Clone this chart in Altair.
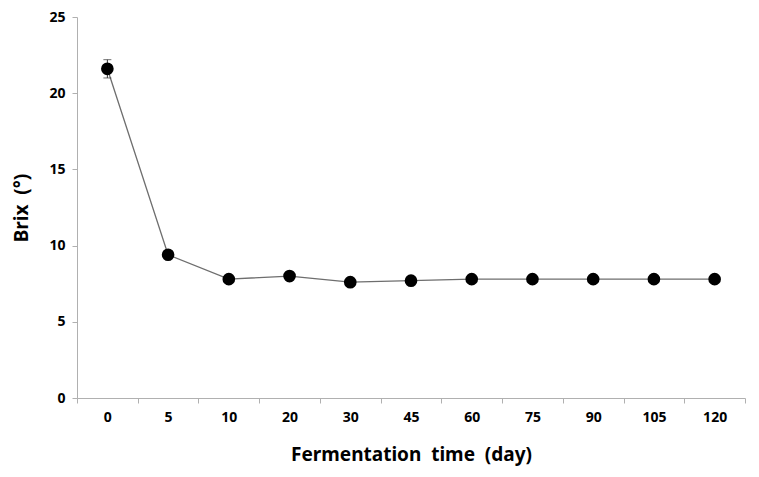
import altair as alt
import pandas as pd

days = ["0", "5", "10", "20", "30", "45", "60", "75", "90", "105", "120"]
brix = [21.6, 9.4, 7.8, 8.0, 7.6, 7.7, 7.8, 7.8, 7.8, 7.8, 7.8]
err = [0.6, 0.15, 0.1, 0.1, 0.1, 0.1, 0.1, 0.1, 0.1, 0.1, 0.1]

df = pd.DataFrame({"day": days, "brix": brix, "err": err})
df["lo"] = df["brix"] - df["err"]
df["hi"] = df["brix"] + df["err"]

FONT = "Noto Sans"
AX = "#b0b0b0"
NB = "\u00a0"

xenc = alt.X(
    "day:N",
    sort=days,
    scale=alt.Scale(type="band", paddingInner=0, paddingOuter=0),
    axis=alt.Axis(
        title=f"Fermentation{NB}{NB}time{NB}{NB}(day)",
        labelAngle=0,
        tickBand="extent",
        labelFont=FONT, labelFontSize=14, labelFontWeight="bold", labelColor="#000",
        titleFont=FONT, titleFontSize=19, titleFontWeight="bold", titleColor="#000",
        titlePadding=21, labelPadding=7,
        domainColor=AX, tickColor=AX, tickSize=5, grid=False,
    ),
)
yscale = alt.Scale(domain=[0, 25])
yenc = alt.Y(
    "brix:Q",
    scale=yscale,
    axis=alt.Axis(
        title=f"Brix{NB}{NB}(°)",
        values=[0, 5, 10, 15, 20, 25],
        labelFont=FONT, labelFontSize=14, labelFontWeight="bold", labelColor="#000",
        titleFont=FONT, titleFontSize=19, titleFontWeight="bold", titleColor="#000",
        titlePadding=17, labelPadding=7,
        domainColor=AX, tickColor=AX, tickSize=5, grid=False,
    ),
)

base = alt.Chart(df)
line = base.mark_line(color="#6e6e6e", strokeWidth=1.3).encode(x=xenc, y=yenc)
rule = base.mark_rule(color="#333", strokeWidth=1).encode(
    x=alt.X("day:N", sort=days), y=alt.Y("lo:Q", scale=yscale), y2="hi:Q"
)
cap_lo = base.mark_tick(color="#333", size=8, thickness=1).encode(
    x=alt.X("day:N", sort=days), y=alt.Y("lo:Q", scale=yscale)
)
cap_hi = base.mark_tick(color="#333", size=8, thickness=1).encode(
    x=alt.X("day:N", sort=days), y=alt.Y("hi:Q", scale=yscale)
)
pts = base.mark_point(filled=True, color="#000", size=160, opacity=1).encode(x=xenc, y=yenc)

chart = (
    alt.layer(line, rule, cap_lo, cap_hi, pts)
    .properties(
        width=668, height=381,
        autosize=alt.AutoSizeParams(type="none"),
        padding={"left": 69, "top": 9, "right": 6, "bottom": 71},
    )
    .configure(background="white")
    .configure_view(stroke="transparent", strokeWidth=0)
)

chart.save("out.html", embed_options={"renderer": "svg", "actions": False})
